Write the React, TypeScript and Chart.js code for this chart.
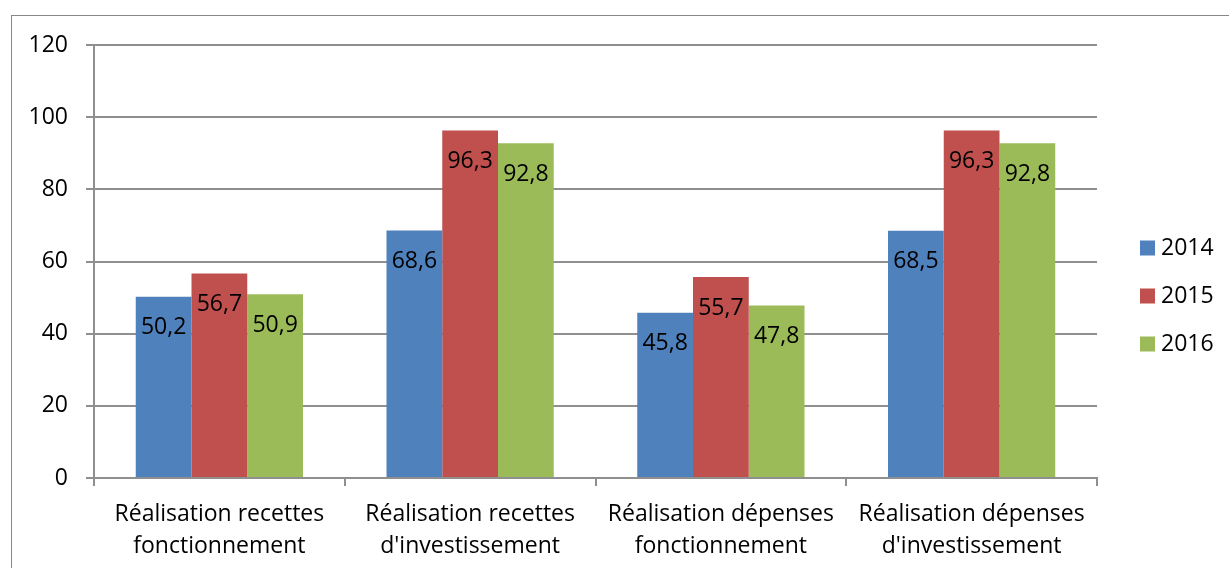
import React, { useEffect, useRef } from "react";
import { Chart, registerables } from "chart.js";

Chart.register(...registerables);

const categories: string[][] = [
  ["Réalisation recettes", "fonctionnement"],
  ["Réalisation recettes", "d'investissement"],
  ["Réalisation dépenses", "fonctionnement"],
  ["Réalisation dépenses", "d'investissement"],
];
const seriesNames = ["2014", "2015", "2016"];
const values2014 = [50.2, 68.6, 45.8, 68.5];
const values2015 = [56.7, 96.3, 55.7, 96.3];
const values2016 = [50.9, 92.8, 47.8, 92.8];
const colors = ["#4F81BD", "#C0504D", "#9BBB59"];
const yTicks = [0, 20, 40, 60, 80, 100, 120];

const FONT = "'Open Sans', sans-serif";
const FS = 23;

const labelPlugin = {
  id: "barLabels",
  afterDatasetsDraw(chart: any) {
    const ctx = chart.ctx;
    ctx.save();
    ctx.font = `${FS}px ${FONT}`;
    ctx.fillStyle = "#000";
    ctx.textAlign = "center";
    ctx.textBaseline = "middle";
    chart.data.datasets.forEach((ds: any, i: number) => {
      const meta = chart.getDatasetMeta(i);
      meta.data.forEach((bar: any, j: number) => {
        const v = ds.data[j] as number;
        ctx.fillText(v.toFixed(1).replace(".", ","), bar.x, bar.y + 31);
      });
    });
    ctx.restore();
  },
};

const legendPlugin = {
  id: "customLegend",
  afterDraw(chart: any) {
    const ctx = chart.ctx;
    ctx.save();
    ctx.font = `${FS}px ${FONT}`;
    ctx.textAlign = "left";
    ctx.textBaseline = "middle";
    seriesNames.forEach((name, i) => {
      const cy = 248 + i * 48;
      ctx.fillStyle = colors[i];
      ctx.fillRect(1140, cy - 7.5, 15, 15);
      ctx.fillStyle = "#000";
      ctx.fillText(name, 1161, cy);
    });
    ctx.restore();
  },
};

export default function App() {
  const ref = useRef<HTMLCanvasElement>(null);
  useEffect(() => {
    document.body.style.margin = "0";
    const series = [values2014, values2015, values2016];
    const chart = new Chart(ref.current!, {
      type: "bar",
      data: {
        labels: categories,
        datasets: series.map((d, i) => ({
          label: seriesNames[i],
          data: d,
          backgroundColor: colors[i],
          borderWidth: 0,
          categoryPercentage: 0.667,
          barPercentage: 1,
        })),
      },
      options: {
        responsive: false,
        animation: false,
        devicePixelRatio: 1,
        layout: { padding: { left: 0, right: 132, top: 45, bottom: 0 } },
        plugins: { legend: { display: false }, tooltip: { enabled: false } },
        scales: {
          x: {
            grid: {
              offset: true,
              drawOnChartArea: false,
              color: "#8f8f8f",
              lineWidth: 2,
              tickLength: 8,
            },
            border: { color: "#8f8f8f", width: 2 },
            ticks: {
              color: "#000",
              font: { family: FONT, size: FS, lineHeight: 1.37 },
              padding: 13,
              maxRotation: 0,
              autoSkip: false,
            },
            afterFit(scale: any) {
              scale.height = 90;
            },
          },
          y: {
            min: 0,
            max: 120,
            afterBuildTicks(scale: any) {
              scale.ticks = yTicks.map((v) => ({ value: v }));
            },
            grid: { color: "#8f8f8f", lineWidth: 2, tickLength: 8 },
            border: { color: "#8f8f8f", width: 2 },
            ticks: {
              color: "#000",
              font: { family: FONT, size: FS },
              padding: 18,
            },
            afterFit(scale: any) {
              scale.width = 94;
            },
          },
        },
      },
      plugins: [labelPlugin, legendPlugin],
    });
    return () => chart.destroy();
  }, []);
  return (
    <div style={{ position: "relative", width: 1229, height: 568, overflow: "hidden", background: "#fff" }}>
      <div
        style={{
          position: "absolute",
          left: 11,
          top: 15,
          width: 1300,
          height: 700,
          border: "1.5px solid #888",
          boxSizing: "border-box",
        }}
      />
      <canvas ref={ref} width={1229} height={568} style={{ position: "absolute", left: 0, top: 0 }} />
    </div>
  );
}
